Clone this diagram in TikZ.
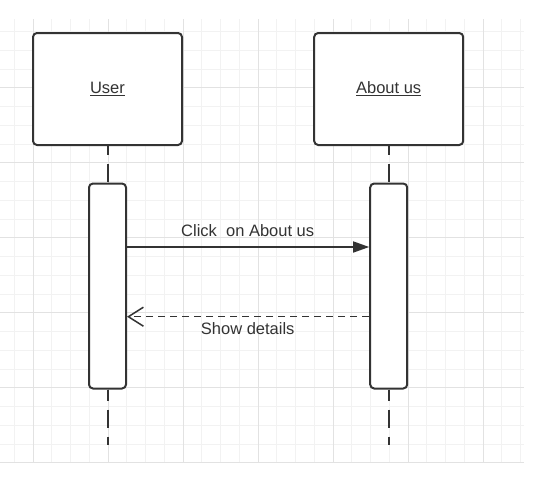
\documentclass[tikz,border=0pt]{standalone}
\usepackage{fontspec}
\setmainfont{Liberation Sans}
\usepackage{xcolor}
\usetikzlibrary{positioning, arrows.meta}
\definecolor{InkGray}{RGB}{51,51,51}
\definecolor{GridMinor}{RGB}{242,242,242}
\definecolor{GridMajor}{RGB}{226,226,226}
\tikzset{
  actorbox/.style={draw=InkGray, line width=2pt, fill=white, rounded corners=4pt,
    minimum width=149pt, minimum height=112pt, inner sep=0pt, text=InkGray},
  actbar/.style={draw=InkGray, line width=2pt, fill=white, rounded corners=4pt,
    minimum width=37pt, minimum height=205pt, inner sep=0pt},
  lifeline/.style={draw=InkGray, line width=2pt, dash pattern=on 18pt off 9pt},
  callarr/.style={InkGray, line width=1.5pt, -{Triangle[length=16pt, width=11pt]}},
  backarr/.style={InkGray, line width=1.5pt, dash pattern=on 7pt off 5pt,
    -{Straight Barb[length=15pt, width=19pt, line width=1.5pt]}},
  msglabel/.style={anchor=base, inner sep=0pt, text=InkGray},
  gridminor/.style={draw=GridMinor, line width=1pt},
  gridmajor/.style={draw=GridMajor, line width=1pt},
}

\begin{document}
\begin{tikzpicture}[x=1pt, y=-1pt, font=\fontsize{16.5}{20}\selectfont]
    \fill[white] (0,0) rectangle (535,482);
    % background grid
    \begin{scope}
      \clip (0,19) rectangle (524,462.8);
      \foreach \k in {0,...,27} \draw[gridminor] (14.3+18.75*\k,19) -- ++(0,444);
      \foreach \k in {0,...,23} \draw[gridminor] (0,31.7+18.75*\k) -- ++(524,0);
      \foreach \k in {1,5,...,25} \draw[gridmajor] (14.3+18.75*\k,19) -- ++(0,444);
      \foreach \k in {3,7,...,23} \draw[gridmajor] (0,31.7+18.75*\k) -- ++(524,0);
    \end{scope}
    % lifelines
    \node[actorbox] (user) at (107.5,89) {\underline{User}};
    \node[actorbox] (about) at (388.7,89) {\underline{About us}};
    \coordinate (uend) at (107.5,445);
    \coordinate (aend) at (388.7,445);
    \node[actbar] (uact) at (107.5,286) {};
    \node[actbar] (aact) at (388.7,286) {};
    \draw[lifeline, dash phase=9pt] (user.south) -- (uact.north);
    \draw[lifeline, dash phase=9pt] (about.south) -- (aact.north);
    \draw[lifeline, dash phase=7pt] (uact.south) -- (uend);
    \draw[lifeline, dash phase=7pt] (aact.south) -- (aend);
    % messages
    \coordinate (m1) at (0,247);
    \coordinate (m2) at (0,316.7);
    \draw[callarr] (uact.east |- m1) -- (aact.west |- m1);
    \draw[backarr] (aact.west |- m2) -- (uact.east |- m2);
    \node[msglabel] (clicklbl) at (247.7,236.7) {Click\ \ on About us};
    \node[msglabel] (showlbl) at (247.7,334.3) {Show details};
  \end{tikzpicture}
\end{document}
